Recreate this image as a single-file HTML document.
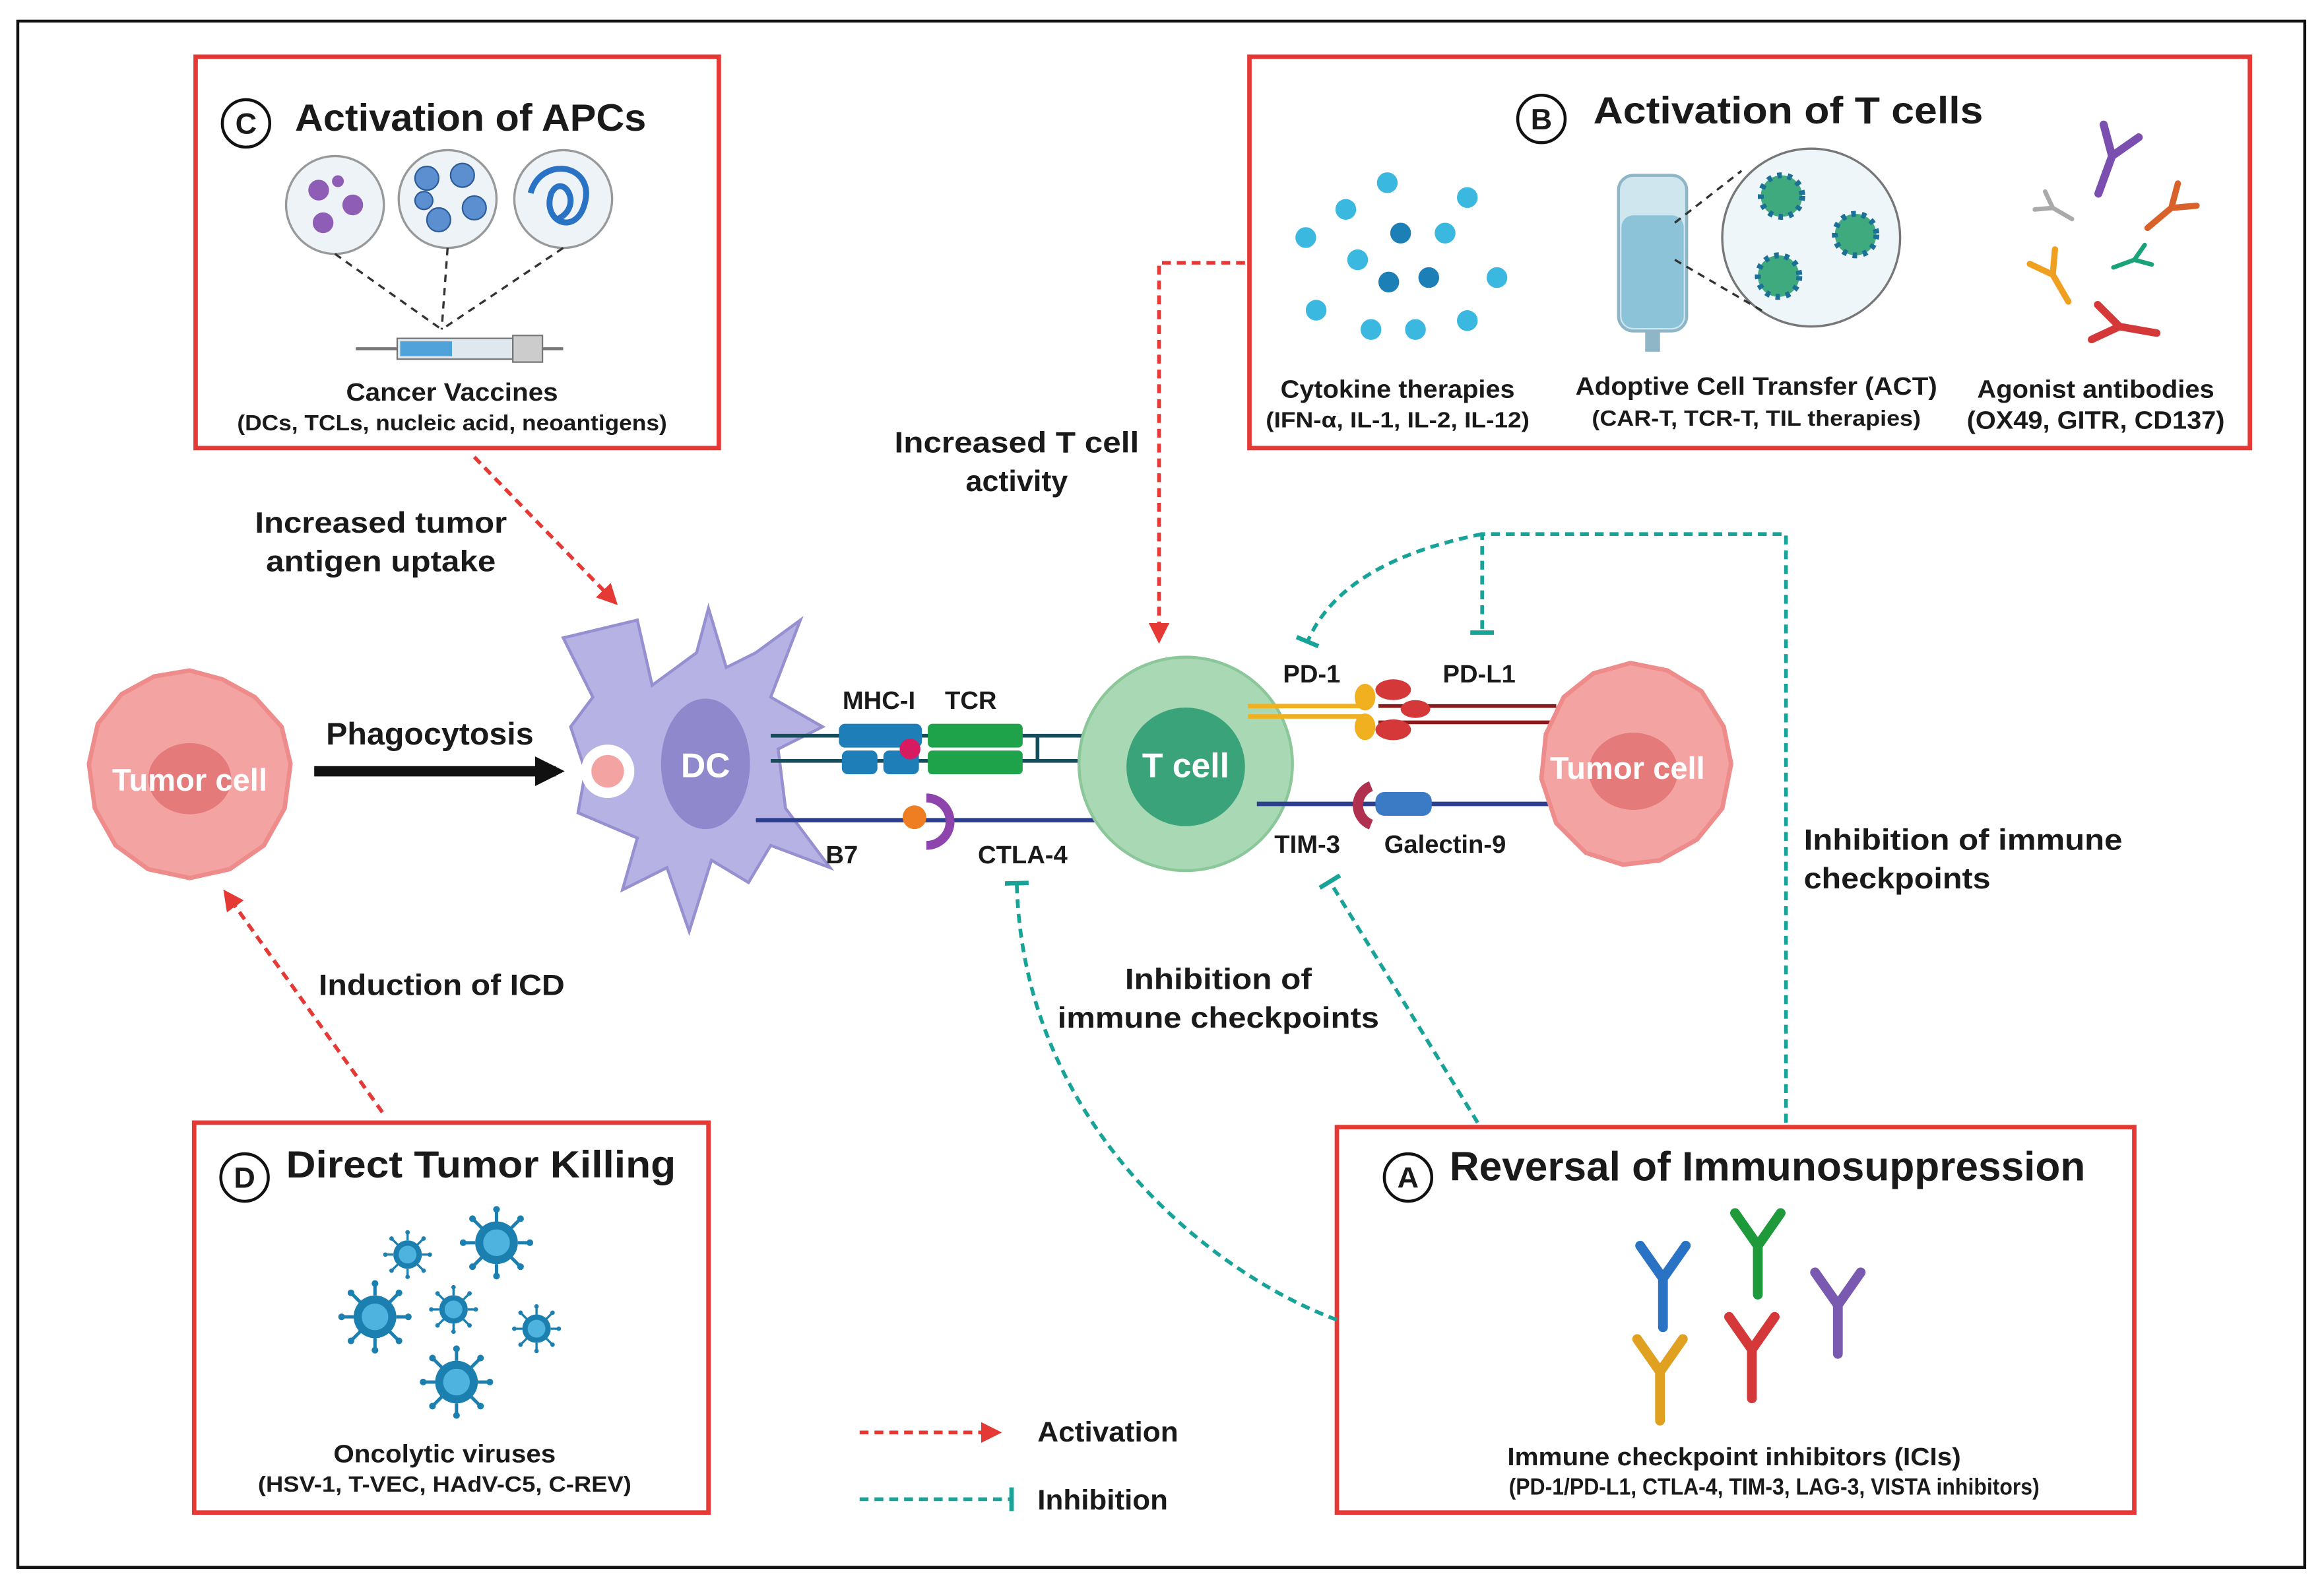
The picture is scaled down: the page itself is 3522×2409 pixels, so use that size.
<!DOCTYPE html>
<html><head><meta charset="utf-8"><style>
html,body{margin:0;padding:0;background:#fff;}
svg{display:block;}
text{font-family:"Liberation Sans",sans-serif;font-weight:bold;fill:#1a1a1a;}
</style></head><body>
<svg width="3522" height="2409" viewBox="0 0 1568 1072" xmlns="http://www.w3.org/2000/svg">
<defs>
<marker id="rab" markerWidth="14" markerHeight="14" refX="10" refY="7" orient="auto" markerUnits="userSpaceOnUse" viewBox="0 0 14 14"><path d="M0,0 L14,7 L0,14 z" fill="#e53935"/></marker>
<marker id="tb" markerWidth="4" markerHeight="16" refX="2" refY="8" orient="auto" markerUnits="userSpaceOnUse"><rect x="0" y="0" width="3" height="16" fill="#17a398"/></marker>
<marker id="ka" markerWidth="20" markerHeight="20" refX="14" refY="10" orient="auto" markerUnits="userSpaceOnUse"><path d="M0,0 L20,10 L0,20 z" fill="#111"/></marker>
<g id="ab"><path d="M0,0 L0,30 M0,0 L-14,-20 M0,0 L14,-20" stroke-width="6" fill="none" stroke-linecap="round"/></g>
<g id="vir"><circle r="16" fill="#1b7fb0"/><circle r="10" fill="#4fb3e0"/><g stroke="#1b7fb0" stroke-width="2.5"><path d="M0,-16V-24M0,16V24M-16,0H-24M16,0H24M-11,-11L-17,-17M11,11L17,17M-11,11L-17,17M11,-11L17,-17"/></g><g fill="#1b7fb0"><circle cx="0" cy="-25" r="2.5"/><circle cx="0" cy="25" r="2.5"/><circle cx="-25" cy="0" r="2.5"/><circle cx="25" cy="0" r="2.5"/><circle cx="-18" cy="-18" r="2.5"/><circle cx="18" cy="18" r="2.5"/><circle cx="-18" cy="18" r="2.5"/><circle cx="18" cy="-18" r="2.5"/></g></g>
</defs>
<rect x="12" y="14" width="1543" height="1043" fill="none" stroke="#111" stroke-width="2"/>

<!-- Box C -->
<rect x="132" y="38" width="353" height="264" fill="none" stroke="#e53935" stroke-width="3"/>
<circle cx="166" cy="83" r="16" fill="#fff" stroke="#111" stroke-width="2"/><text x="166" y="90" font-size="20" text-anchor="middle">C</text>
<text x="199" y="88" font-size="25.5" textLength="237" lengthAdjust="spacingAndGlyphs">Activation of APCs</text>
<g stroke="#999" stroke-width="1.5" fill="#eef3f7"><circle cx="226" cy="138" r="33"/><circle cx="302" cy="134" r="33"/><circle cx="380" cy="134" r="33"/></g>
<g fill="#8e5db5"><circle cx="215" cy="128" r="7"/><circle cx="238" cy="138" r="7"/><circle cx="218" cy="150" r="7"/><circle cx="228" cy="122" r="4"/></g>
<g fill="#5b8fd0" stroke="#2d5c99"><circle cx="288" cy="120" r="8"/><circle cx="312" cy="118" r="8"/><circle cx="320" cy="140" r="8"/><circle cx="296" cy="148" r="8"/><circle cx="286" cy="135" r="6"/></g>
<path d="M358,130 C365,105 400,110 395,135 C390,160 365,150 372,130 C380,115 395,140 375,148" fill="none" stroke="#2a73c4" stroke-width="4"/>
<g stroke="#333" stroke-width="1.5" stroke-dasharray="5,4" fill="none"><path d="M226,171 L298,222 M302,167 L298,222 M380,167 L298,222"/></g>
<rect x="268" y="228" width="78" height="14" fill="#dfe8ee" stroke="#777"/><rect x="270" y="230" width="35" height="10" fill="#4fa3d8"/><rect x="346" y="226" width="20" height="18" fill="#ccc" stroke="#777"/><path d="M240,235 H268 M366,235 H380" stroke="#777" stroke-width="2"/>
<text x="305" y="270" font-size="17" text-anchor="middle" textLength="143" lengthAdjust="spacingAndGlyphs">Cancer Vaccines</text>
<text x="305" y="290" font-size="15" text-anchor="middle" textLength="290" lengthAdjust="spacingAndGlyphs">(DCs, TCLs, nucleic acid, neoantigens)</text>

<!-- Box B -->
<rect x="843" y="38" width="675" height="264" fill="none" stroke="#e53935" stroke-width="3"/>
<circle cx="1040" cy="80" r="16" fill="#fff" stroke="#111" stroke-width="2"/><text x="1040" y="87" font-size="20" text-anchor="middle">B</text>
<text x="1075" y="83" font-size="25.5" textLength="263" lengthAdjust="spacingAndGlyphs">Activation of T cells</text>
<g fill="#3bb8df"><circle cx="936" cy="123" r="7"/><circle cx="908" cy="141" r="7"/><circle cx="990" cy="133" r="7"/><circle cx="881" cy="160" r="7"/><circle cx="975" cy="157" r="7"/><circle cx="916" cy="175" r="7"/><circle cx="1010" cy="187" r="7"/><circle cx="888" cy="209" r="7"/><circle cx="925" cy="222" r="7"/><circle cx="955" cy="222" r="7"/><circle cx="990" cy="216" r="7"/></g>
<g fill="#1c7fb5"><circle cx="945" cy="157" r="7"/><circle cx="937" cy="190" r="7"/><circle cx="964" cy="187" r="7"/></g>
<rect x="1092" y="118" width="46" height="105" rx="10" fill="#cfe6ef" stroke="#8fb6c6" stroke-width="2"/><rect x="1094" y="145" width="42" height="76" rx="8" fill="#8cc3d8"/><rect x="1110" y="223" width="10" height="14" fill="#8fb6c6"/>
<circle cx="1222" cy="160" r="60" fill="#eef6fa" stroke="#777" stroke-width="1.5"/>
<g stroke="#333" stroke-width="1.5" stroke-dasharray="5,4"><path d="M1130,150 L1175,115 M1130,175 L1190,210"/></g>
<g fill="#3faa7d" stroke="#1c6f96" stroke-width="4" stroke-dasharray="3,4"><circle cx="1202" cy="132" r="14"/><circle cx="1252" cy="158" r="14"/><circle cx="1200" cy="186" r="14"/></g>
<g stroke-linecap="round">
<use href="#ab" transform="translate(1425,105) rotate(20) scale(0.9)" stroke="#7b4fb0"/>
<use href="#ab" transform="translate(1385,140) rotate(-60) scale(0.5)" stroke="#aaa"/>
<use href="#ab" transform="translate(1465,140) rotate(50) scale(0.7)" stroke="#d9622b"/>
<use href="#ab" transform="translate(1385,185) rotate(-30) scale(0.7)" stroke="#f0a020"/>
<use href="#ab" transform="translate(1440,175) rotate(70) scale(0.5)" stroke="#1aa37a"/>
<use href="#ab" transform="translate(1430,220) rotate(-80) scale(0.85)" stroke="#d43838"/>
</g>
<text x="943" y="268" font-size="17" text-anchor="middle" textLength="158" lengthAdjust="spacingAndGlyphs">Cytokine therapies</text>
<text x="943" y="288" font-size="15" text-anchor="middle" textLength="178" lengthAdjust="spacingAndGlyphs">(IFN-α, IL-1, IL-2, IL-12)</text>
<text x="1185" y="266" font-size="17" text-anchor="middle" textLength="244" lengthAdjust="spacingAndGlyphs">Adoptive Cell Transfer (ACT)</text>
<text x="1185" y="287" font-size="15" text-anchor="middle" textLength="222" lengthAdjust="spacingAndGlyphs">(CAR-T, TCR-T, TIL therapies)</text>
<text x="1414" y="268" font-size="17" text-anchor="middle" textLength="160" lengthAdjust="spacingAndGlyphs">Agonist antibodies</text>
<text x="1414" y="289" font-size="17" text-anchor="middle" textLength="174" lengthAdjust="spacingAndGlyphs">(OX49, GITR, CD137)</text>

<!-- Box D -->
<rect x="131" y="757" width="347" height="263" fill="none" stroke="#e53935" stroke-width="3"/>
<circle cx="165" cy="794" r="16" fill="#fff" stroke="#111" stroke-width="2"/><text x="165" y="801" font-size="20" text-anchor="middle">D</text>
<text x="193" y="794" font-size="25.5" textLength="263" lengthAdjust="spacingAndGlyphs">Direct Tumor Killing</text>
<use href="#vir" transform="translate(275,846) scale(0.6)"/>
<use href="#vir" transform="translate(335,838) scale(0.9)"/>
<use href="#vir" transform="translate(253,888) scale(0.9)"/>
<use href="#vir" transform="translate(306,883) scale(0.6)"/>
<use href="#vir" transform="translate(362,896) scale(0.6)"/>
<use href="#vir" transform="translate(308,932) scale(0.9)"/>
<text x="300" y="986" font-size="17" text-anchor="middle" textLength="150" lengthAdjust="spacingAndGlyphs">Oncolytic viruses</text>
<text x="300" y="1006" font-size="15" text-anchor="middle" textLength="252" lengthAdjust="spacingAndGlyphs">(HSV-1, T-VEC, HAdV-C5, C-REV)</text>

<!-- Box A -->
<rect x="902" y="760" width="538" height="260" fill="none" stroke="#e53935" stroke-width="3"/>
<circle cx="950" cy="794" r="16" fill="#fff" stroke="#111" stroke-width="2"/><text x="950" y="801" font-size="20" text-anchor="middle">A</text>
<text x="978" y="796" font-size="27.5" textLength="429" lengthAdjust="spacingAndGlyphs">Reversal of Immunosuppression</text>
<g stroke-linecap="round">
<use href="#ab" transform="translate(1122,862) scale(1.1)" stroke="#2a73c4"/>
<use href="#ab" transform="translate(1186,840) scale(1.1)" stroke="#1e9a3a"/>
<use href="#ab" transform="translate(1240,880) scale(1.1)" stroke="#7a5ab0"/>
<use href="#ab" transform="translate(1120,925) scale(1.1)" stroke="#e0a020"/>
<use href="#ab" transform="translate(1182,910) scale(1.1)" stroke="#d43838"/>
</g>
<text x="1170" y="988" font-size="17" text-anchor="middle" textLength="306" lengthAdjust="spacingAndGlyphs">Immune checkpoint inhibitors (ICIs)</text>
<text x="1197" y="1008" font-size="15.5" text-anchor="middle" textLength="358" lengthAdjust="spacingAndGlyphs">(PD-1/PD-L1, CTLA-4, TIM-3, LAG-3, VISTA inhibitors)</text>

<!-- Legend -->
<path d="M580,966 H672" stroke="#e53935" stroke-width="2.5" stroke-dasharray="6,4" marker-end="url(#rab)"/>
<text x="700" y="972" font-size="19" textLength="95" lengthAdjust="spacingAndGlyphs">Activation</text>
<path d="M580,1011 H683" stroke="#17a398" stroke-width="2.5" stroke-dasharray="6,4" marker-end="url(#tb)"/>
<text x="700" y="1018" font-size="19" textLength="88" lengthAdjust="spacingAndGlyphs">Inhibition</text>

<!-- Left tumor cell -->
<path d="M128,452 L150,458 L172,470 L190,490 L196,515 L192,545 L178,570 L155,586 L128,592 L100,586 L78,570 L64,545 L60,515 L66,488 L82,468 L104,456 Z" fill="#f4a3a3" stroke="#ee8c8c" stroke-width="3"/>
<ellipse cx="128" cy="525" rx="28" ry="24" fill="#e57a7a"/>
<text x="128" y="533" font-size="21" text-anchor="middle" style="fill:#fff">Tumor cell</text>
<path d="M212,520 H375" stroke="#111" stroke-width="7" marker-end="url(#ka)"/>
<text x="290" y="502" font-size="21" text-anchor="middle" textLength="140" lengthAdjust="spacingAndGlyphs">Phagocytosis</text>

<!-- DC -->
<path d="M430,418 L440,462 L470,440 L478,410 L490,450 L510,440 L540,418 L520,470 L555,490 L525,505 L530,545 L560,585 L520,570 L505,595 L480,580 L465,628 L450,585 L420,600 L430,565 L390,548 L395,520 L385,490 L400,470 L380,430 Z" fill="#b6b2e4" stroke="#9690d0" stroke-width="2"/>
<ellipse cx="476" cy="515" rx="30" ry="44" fill="#8f88cc"/>
<circle cx="410" cy="520" r="18" fill="#fff"/><circle cx="410" cy="520" r="11" fill="#f4a3a3"/>
<text x="476" y="524" font-size="23" text-anchor="middle" style="fill:#fff">DC</text>

<!-- receptors -->
<path d="M520,496 H760 M520,513 H760" stroke="#1a4d5c" stroke-width="2.5"/>
<path d="M510,553 H760" stroke="#2c3e8f" stroke-width="3"/>
<rect x="566" y="488" width="56" height="16" rx="4" fill="#1d7eb8"/><rect x="568" y="506" width="24" height="16" rx="4" fill="#1d7eb8"/><rect x="596" y="506" width="24" height="16" rx="4" fill="#1d7eb8"/>
<circle cx="614" cy="505" r="7" fill="#d81b60"/>
<rect x="626" y="488" width="64" height="16" rx="3" fill="#1fa34a"/><rect x="626" y="506" width="64" height="16" rx="3" fill="#1fa34a"/>
<path d="M700,496 V513" stroke="#1a4d5c" stroke-width="2.5"/>
<circle cx="617" cy="551" r="8" fill="#ef7d22"/>
<path d="M625,538 A16,16 0 0 1 625,570" fill="none" stroke="#8e44ad" stroke-width="6"/>
<text x="593" y="478" font-size="17" text-anchor="middle">MHC-I</text>
<text x="655" y="478" font-size="17" text-anchor="middle">TCR</text>
<text x="568" y="582" font-size="17" text-anchor="middle">B7</text>
<text x="690" y="582" font-size="17" text-anchor="middle">CTLA-4</text>

<!-- T cell -->
<circle cx="800" cy="515" r="72" fill="#a9d8b4" stroke="#8cc79a" stroke-width="2"/>
<circle cx="800" cy="517" r="40" fill="#3aa37a"/>
<text x="800" y="524" font-size="23" text-anchor="middle" style="fill:#fff">T cell</text>

<!-- right receptors -->
<path d="M930,476 H1050 M930,487 H1050" stroke="#8b1a1a" stroke-width="2.5"/>
<path d="M842,476 H920 M842,483 H920" stroke="#f0b020" stroke-width="3"/>
<ellipse cx="921" cy="470" rx="7" ry="9" fill="#f0b020"/><ellipse cx="921" cy="490" rx="7" ry="9" fill="#f0b020"/>
<ellipse cx="940" cy="465" rx="12" ry="7" fill="#d43838"/><ellipse cx="940" cy="492" rx="12" ry="7" fill="#d43838"/><ellipse cx="955" cy="478" rx="10" ry="6" fill="#d43838"/>
<path d="M848,542 H1050" stroke="#2c3e8f" stroke-width="3"/>
<path d="M925,530 A14,14 0 0 0 925,556" fill="none" stroke="#b03050" stroke-width="7"/>
<rect x="928" y="534" width="38" height="16" rx="6" fill="#3b7ac4"/>
<text x="885" y="460" font-size="17" text-anchor="middle">PD-1</text>
<text x="998" y="460" font-size="17" text-anchor="middle">PD-L1</text>
<text x="882" y="575" font-size="17" text-anchor="middle">TIM-3</text>
<text x="975" y="575" font-size="17" text-anchor="middle">Galectin-9</text>

<!-- Right tumor cell -->
<path d="M1100,447 L1125,452 L1148,466 L1163,490 L1168,515 L1162,545 L1145,566 L1120,580 L1095,583 L1070,575 L1050,555 L1040,525 L1043,495 L1055,470 L1075,454 Z" fill="#f4a3a3" stroke="#ee8c8c" stroke-width="3"/>
<ellipse cx="1102" cy="520" rx="30" ry="26" fill="#e57a7a"/>
<text x="1098" y="525" font-size="21" text-anchor="middle" style="fill:#fff">Tumor cell</text>

<!-- activation arrows -->
<g stroke="#e53935" stroke-width="2.5" stroke-dasharray="6,4" fill="none">
<path d="M320,308 L414,405" marker-end="url(#rab)"/>
<path d="M840,177 H782 V430" marker-end="url(#rab)"/>
<path d="M258,750 L153,603" marker-end="url(#rab)"/>
</g>
<!-- inhibition -->
<g stroke="#17a398" stroke-width="2.5" stroke-dasharray="6,4" fill="none">
<path d="M997,757 L897,594" marker-end="url(#tb)"/>
<path d="M902,890 C820,860 690,760 686,595" marker-end="url(#tb)"/>
<path d="M1205,757 V360 H1000 V427" marker-end="url(#tb)"/>
<path d="M1000,360 C950,370 900,390 882,433" marker-end="url(#tb)"/>
</g>

<!-- labels -->
<text x="257" y="359" font-size="20" text-anchor="middle" textLength="170" lengthAdjust="spacingAndGlyphs">Increased tumor</text>
<text x="257" y="385" font-size="20" text-anchor="middle" textLength="155" lengthAdjust="spacingAndGlyphs">antigen uptake</text>
<text x="686" y="305" font-size="20" text-anchor="middle" textLength="165" lengthAdjust="spacingAndGlyphs">Increased T cell</text>
<text x="686" y="331" font-size="20" text-anchor="middle">activity</text>
<text x="298" y="671" font-size="20" text-anchor="middle" textLength="166" lengthAdjust="spacingAndGlyphs">Induction of ICD</text>
<text x="822" y="667" font-size="20" text-anchor="middle" textLength="126" lengthAdjust="spacingAndGlyphs">Inhibition of</text>
<text x="822" y="693" font-size="20" text-anchor="middle" textLength="217" lengthAdjust="spacingAndGlyphs">immune checkpoints</text>
<text x="1217" y="573" font-size="20" textLength="215" lengthAdjust="spacingAndGlyphs">Inhibition of immune</text>
<text x="1217" y="599" font-size="20" textLength="126" lengthAdjust="spacingAndGlyphs">checkpoints</text>
</svg>
</body></html>
